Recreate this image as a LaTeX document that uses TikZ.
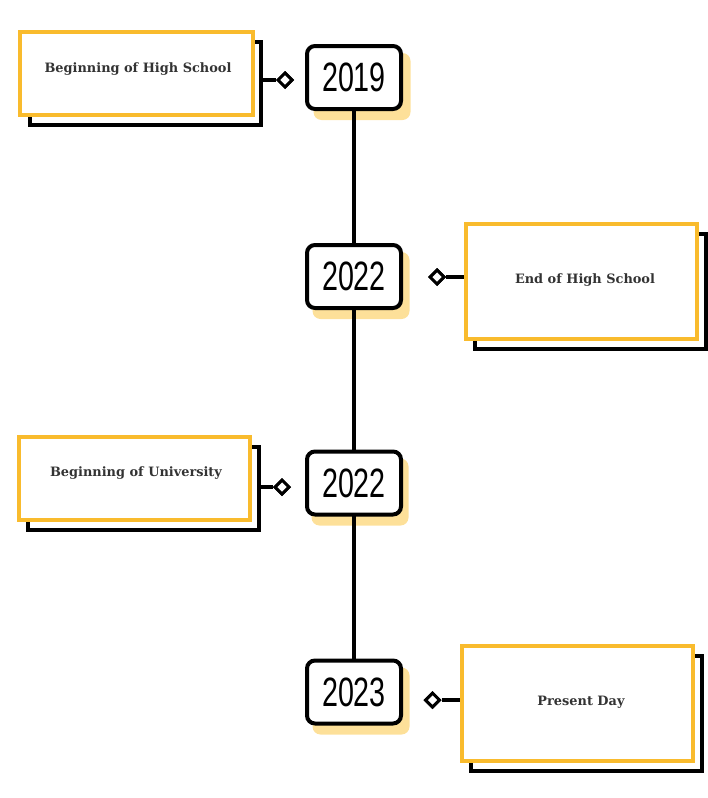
\documentclass[tikz,border=0pt]{standalone}
\usepackage{fontspec}
\usetikzlibrary{shapes.geometric}
\setmainfont{DejaVu Serif}
\newfontfamily\yearfont[FakeStretch=0.70]{Liberation Sans}
\definecolor{tlyellow}{RGB}{249,187,45}
\definecolor{tlshadow}{RGB}{253,224,153}
\definecolor{tltext}{RGB}{51,51,51}
\tikzset{
  eventbox/.style={draw=tlyellow, line width=4pt, fill=white, inner sep=0pt},
  eventshadow/.style={draw=black, line width=3.5pt, fill=white, inner sep=0pt},
  yearbox/.style={draw=black, line width=4pt, fill=white, rounded corners=8pt,
    minimum width=94pt, minimum height=63pt, inner sep=0pt,
    font=\yearfont\fontsize{41}{41}\selectfont},
  yearshadow/.style={fill=tlshadow, rounded corners=8pt,
    minimum width=97pt, minimum height=67pt, inner sep=0pt},
  tick/.style={diamond, draw=black, line width=3pt, fill=white, inner sep=0pt,
    minimum width=15pt, minimum height=15pt},
  conn/.style={draw=black, line width=3.5pt},
  spine/.style={draw=black, line width=4pt},
  evlabel/.style={font=\bfseries\fontsize{12.9}{15}\selectfont, text=tltext, inner sep=0pt}
}
\begin{document}
\begin{tikzpicture}[x=1pt,y=-1pt]
\useasboundingbox (0,0) rectangle (707,798);
% year shadows
\node[yearshadow] (ys1) at (362,86.5) {};
\node[yearshadow] (ys2) at (361,285.5) {};
\node[yearshadow] (ys3) at (360,492) {};
\node[yearshadow] (ys4) at (361,701) {};
% anchor coordinates for the spine
\coordinate (c1) at (354,77.5);
\coordinate (c2) at (354,276.5);
\coordinate (c3) at (354,483);
\coordinate (c4) at (354,692);
\draw[spine] (c1) -- (c2) -- (c3) -- (c4);
% year boxes
\node[yearbox] (y1) at (c1) {2019};
\node[yearbox] (y2) at (c2) {2022};
\node[yearbox] (y3) at (c3) {2022};
\node[yearbox] (y4) at (c4) {2023};
% event shadows
\node[eventshadow, minimum width=231pt, minimum height=83pt] (s1) at (145.5,83.5) {};
\node[eventshadow, minimum width=231pt, minimum height=115pt] (s2) at (590.5,291.5) {};
\node[eventshadow, minimum width=231pt, minimum height=83pt] (s3) at (143.5,488.5) {};
\node[eventshadow, minimum width=231pt, minimum height=115pt] (s4) at (586.5,713.5) {};
% event boxes
\node[eventbox, minimum width=233pt, minimum height=83pt] (b1) at (136.5,73.5) {};
\node[eventbox, minimum width=231pt, minimum height=115pt] (b2) at (581.5,281.5) {};
\node[eventbox, minimum width=231pt, minimum height=83pt] (b3) at (134.5,478.5) {};
\node[eventbox, minimum width=231pt, minimum height=115pt] (b4) at (577.5,703.5) {};
% labels
\node[evlabel] (t1) at (138,69) {Beginning of High School};
\node[evlabel] (t2) at (585,280) {End of High School};
\node[evlabel] (t3) at (136,473) {Beginning of University};
\node[evlabel] (t4) at (581,702) {Present Day};
% ticks
\node[tick] (d1) at (285,80) {};
\node[tick] (d2) at (437,277) {};
\node[tick] (d3) at (282,487) {};
\node[tick] (d4) at (432.5,700) {};
% connectors
\draw[conn] (d1.west -| s1.east) -- (d1.west);
\draw[conn] (d2.east) -- (d2.east -| b2.west);
\draw[conn] (d3.west -| s3.east) -- (d3.west);
\draw[conn] (d4.east) -- (d4.east -| b4.west);
\node[tick] at (d1) {};
\node[tick] at (d2) {};
\node[tick] at (d3) {};
\node[tick] at (d4) {};
\end{tikzpicture}
\end{document}
